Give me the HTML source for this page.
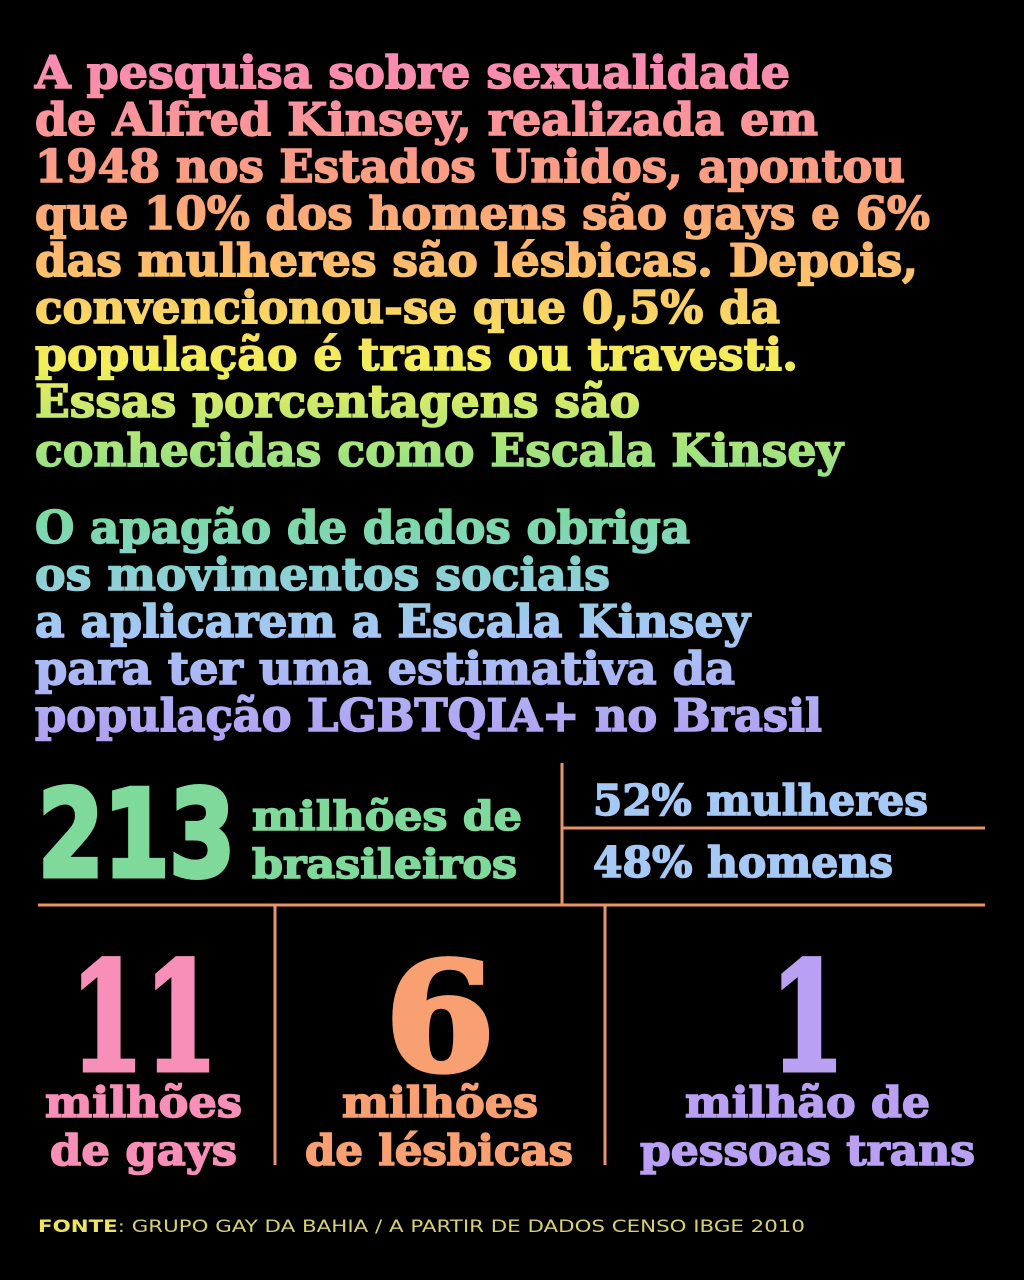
<!DOCTYPE html>
<html><head><meta charset="utf-8">
<style>
html,body{margin:0;padding:0;background:#000;}
svg{display:block;}
.h{font-family:"DejaVu Serif","Liberation Serif",serif;font-weight:bold;font-size:45px;stroke:url(#g);stroke-width:1.6px;}
.c{font-family:"Liberation Sans Narrow","DejaVu Sans Condensed","Liberation Sans",sans-serif;font-weight:bold;}
.s{font-family:"DejaVu Serif","Liberation Serif",serif;font-weight:bold;stroke-width:1.6px;}
</style></head>
<body>
<svg width="1024" height="1280" viewBox="0 0 1024 1280" xmlns="http://www.w3.org/2000/svg">
<defs>
<linearGradient id="g" gradientUnits="userSpaceOnUse" x1="0" y1="50" x2="0" y2="745">
<stop offset="0" stop-color="#f889b8"/>
<stop offset="0.2" stop-color="#fba07c"/>
<stop offset="0.33" stop-color="#fcc36a"/>
<stop offset="0.45" stop-color="#f3ee5a"/>
<stop offset="0.57" stop-color="#a8e47a"/>
<stop offset="0.67" stop-color="#7cd9a2"/>
<stop offset="0.73" stop-color="#84d4c8"/>
<stop offset="0.84" stop-color="#a6c6f6"/>
<stop offset="1" stop-color="#b49ef2"/>
</linearGradient>
</defs>
<rect width="1024" height="1280" fill="#000"/>
<g class="h" fill="url(#g)">
<text x="35" y="88" textLength="755" lengthAdjust="spacingAndGlyphs">A pesquisa sobre sexualidade</text>
<text x="35" y="135" textLength="783" lengthAdjust="spacingAndGlyphs">de Alfred Kinsey, realizada em</text>
<text x="35" y="182" textLength="870" lengthAdjust="spacingAndGlyphs">1948 nos Estados Unidos, apontou</text>
<text x="35" y="229" textLength="895" lengthAdjust="spacingAndGlyphs">que 10% dos homens são gays e 6%</text>
<text x="35" y="276" textLength="883" lengthAdjust="spacingAndGlyphs">das mulheres são lésbicas. Depois,</text>
<text x="35" y="323" textLength="745" lengthAdjust="spacingAndGlyphs">convencionou-se que 0,5% da</text>
<text x="35" y="370" textLength="763" lengthAdjust="spacingAndGlyphs">população é trans ou travesti.</text>
<text x="35" y="417" textLength="605" lengthAdjust="spacingAndGlyphs">Essas porcentagens são</text>
<text x="35" y="466" textLength="808" lengthAdjust="spacingAndGlyphs">conhecidas como Escala Kinsey</text>
</g>
<g class="h" fill="url(#g)">
<text x="35" y="543" textLength="655" lengthAdjust="spacingAndGlyphs">O apagão de dados obriga</text>
<text x="35" y="590" textLength="575" lengthAdjust="spacingAndGlyphs">os movimentos sociais</text>
<text x="35" y="637" textLength="715" lengthAdjust="spacingAndGlyphs">a aplicarem a Escala Kinsey</text>
<text x="35" y="684" textLength="700" lengthAdjust="spacingAndGlyphs">para ter uma estimativa da</text>
<text x="35" y="731" textLength="787" lengthAdjust="spacingAndGlyphs">população LGBTQIA+ no Brasil</text>
</g>
<g stroke="#e8956a" stroke-width="3">
<line x1="562" y1="763" x2="562" y2="905"/>
<line x1="562" y1="828" x2="985" y2="828"/>
<line x1="38" y1="905" x2="985" y2="905"/>
<line x1="275" y1="905" x2="275" y2="1165"/>
<line x1="605" y1="905" x2="605" y2="1165"/>
</g>
<text class="c" x="38" y="876" font-size="120" fill="#7fd99a" stroke="#7fd99a" stroke-width="5" textLength="197" lengthAdjust="spacingAndGlyphs">213</text>
<text class="s" x="252" y="830" font-size="40" fill="#7fd99a" stroke="#7fd99a" textLength="270" lengthAdjust="spacingAndGlyphs">milhões de</text>
<text class="s" x="252" y="878" font-size="40" fill="#7fd99a" stroke="#7fd99a" textLength="265" lengthAdjust="spacingAndGlyphs">brasileiros</text>
<text class="s" x="593" y="815" font-size="42" fill="#a6c8f5" stroke="#a6c8f5" textLength="335" lengthAdjust="spacingAndGlyphs">52% mulheres</text>
<text class="s" x="593" y="877" font-size="42" fill="#a6c8f5" stroke="#a6c8f5" textLength="300" lengthAdjust="spacingAndGlyphs">48% homens</text>
<g>
<text class="s" x="70" y="1070" font-size="150" fill="#f78fb9" stroke="#f78fb9" style="stroke-width:5px" textLength="148" lengthAdjust="spacingAndGlyphs">11</text>
<text class="s" x="45" y="1117" font-size="42" fill="#f78fb9" stroke="#f78fb9" textLength="197" lengthAdjust="spacingAndGlyphs">milhões</text>
<text class="s" x="50" y="1165" font-size="42" fill="#f78fb9" stroke="#f78fb9" textLength="187" lengthAdjust="spacingAndGlyphs">de gays</text>
</g>
<g>
<text class="s" x="385" y="1070" font-size="150" fill="#f9a072" stroke="#f9a072" style="stroke-width:5px" textLength="110" lengthAdjust="spacingAndGlyphs">6</text>
<text class="s" x="342" y="1117" font-size="42" fill="#f9a072" stroke="#f9a072" textLength="196" lengthAdjust="spacingAndGlyphs">milhões</text>
<text class="s" x="305" y="1165" font-size="42" fill="#f9a072" stroke="#f9a072" textLength="268" lengthAdjust="spacingAndGlyphs">de lésbicas</text>
</g>
<g>
<text class="s" x="770" y="1070" font-size="150" fill="#b9a0f2" stroke="#b9a0f2" style="stroke-width:5px" textLength="75" lengthAdjust="spacingAndGlyphs">1</text>
<text class="s" x="685" y="1117" font-size="42" fill="#b9a0f2" stroke="#b9a0f2" textLength="245" lengthAdjust="spacingAndGlyphs">milhão de</text>
<text class="s" x="640" y="1165" font-size="42" fill="#b9a0f2" stroke="#b9a0f2" textLength="335" lengthAdjust="spacingAndGlyphs">pessoas trans</text>
</g>
<text x="38" y="1232" font-family="'DejaVu Sans','Liberation Sans',sans-serif" font-size="17" fill="#d8d070" textLength="767" lengthAdjust="spacingAndGlyphs"><tspan font-weight="bold" fill="#efe45a">FONTE</tspan>: GRUPO GAY DA BAHIA /  A PARTIR DE DADOS CENSO IBGE 2010</text>
</svg>
</body></html>
